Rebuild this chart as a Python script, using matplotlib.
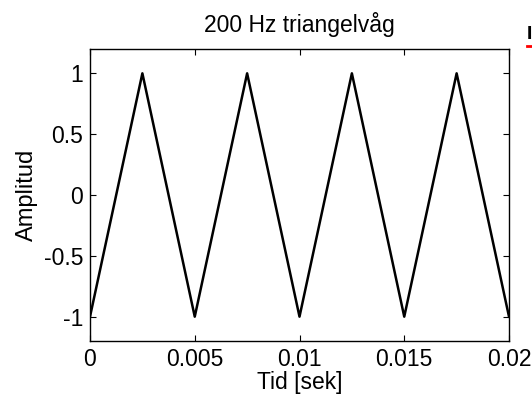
import matplotlib
matplotlib.use("Agg")
import matplotlib.pyplot as plt
from matplotlib.lines import Line2D

# triangle wave corners
t = [0, 0.0025, 0.005, 0.0075, 0.01, 0.0125, 0.015, 0.0175, 0.02]
amp = [-1, 1, -1, 1, -1, 1, -1, 1, -1]

xticks = [0, 0.005, 0.01, 0.015, 0.02]
xticklabels = ["0", "0.005", "0.01", "0.015", "0.02"]
yticks = [-1, -0.5, 0, 0.5, 1]
yticklabels = ["-1", "-0.5", "0", "0.5", "1"]

plt.rcParams["font.family"] = ["Liberation Sans", "DejaVu Sans"]

fig = plt.figure(figsize=(5.32, 3.99), dpi=100)
W, H = 532, 399
x0, x1, y0, y1 = 90, 509, 49, 341
ax = fig.add_axes([x0 / W, 1 - y1 / H, (x1 - x0) / W, (y1 - y0) / H])

ax.plot(t, amp, color="black", lw=1.8)

ax.set_xlim(0, 0.02)
ax.set_ylim(-1.2, 1.2)
ax.set_xticks(xticks)
ax.set_xticklabels(xticklabels)
ax.set_yticks(yticks)
ax.set_yticklabels(yticklabels)
ax.tick_params(direction="in", length=4, width=0.8, top=True, right=True,
               labelsize=16.5, pad=5)
for s in ax.spines.values():
    s.set_linewidth(1.0)

ax.set_title("200 Hz triangelvåg", fontsize=16.5, pad=12)
ax.set_xlabel("Tid [sek]", fontsize=16.5, labelpad=0)
ax.set_ylabel("Amplitud", fontsize=17, labelpad=4)

# cut-off fragment at the top right edge
fig.text(527 / W, 1 - 39 / H, "I", fontsize=14, fontweight="bold", color="black")
fig.add_artist(Line2D([527 / W, 1.0], [1 - 46 / H, 1 - 46 / H], color="red", lw=2,
                      transform=fig.transFigure))

fig.savefig("out.png", dpi=100)
